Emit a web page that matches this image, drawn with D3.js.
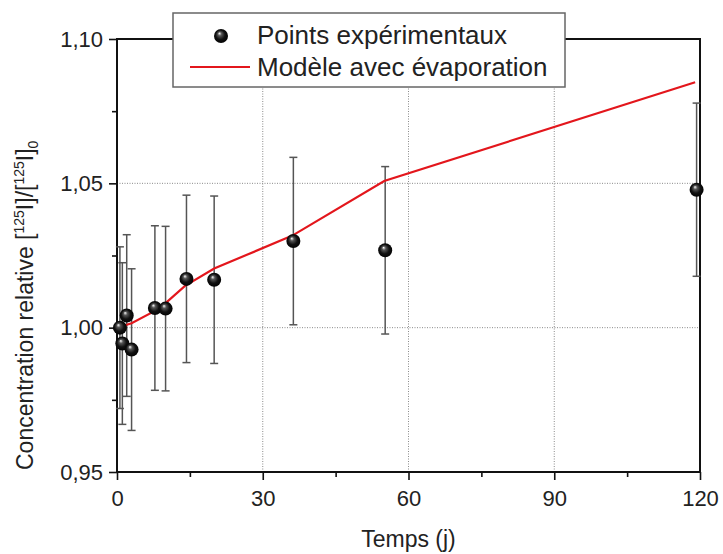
<!DOCTYPE html>
<html>
<head>
<meta charset="utf-8">
<script src="https://cdn.jsdelivr.net/npm/d3@7"></script>
<style>
  body { margin: 0; background: #fff; }
  svg { display: block; font-family: "Liberation Sans", Arial, sans-serif; }
</style>
</head>
<body>
<div id="chart"></div>
<script>
// experimental points
let days = [0.6, 1.1, 2, 3, 7.8, 10, 14.3, 20, 36.3, 55.2, 119.3];
let conc = [1.000, 0.9945, 1.0042, 0.9924, 1.0068, 1.0066, 1.0169, 1.0166, 1.0300, 1.0268, 1.0478];
let errs = [0.028, 0.028, 0.028, 0.028, 0.0285, 0.0285, 0.029, 0.029, 0.029, 0.029, 0.030];

// model with evaporation
let modelDays = [0, 1, 2, 3, 8, 10, 14, 20, 36, 55, 119];
let modelConc = [1.000, 1.0005, 1.001, 1.0015, 1.006, 1.0085, 1.0145, 1.0205, 1.0318, 1.0508, 1.0850];

// ticks
let xTicks = [0, 30, 60, 90, 120];
let xMinor = [15, 45, 75, 105];
let yTicks = [0.95, 1.00, 1.05, 1.10];
let yMinor = [0.975, 1.025, 1.075];
let yLabels = ["0,95", "1,00", "1,05", "1,10"];

let svgWidth = 723;
let svgHeight = 554;

let svg = d3.select("#chart")
  .append("svg")
  .attr("width", svgWidth)
  .attr("height", svgHeight);

let x = d3.scaleLinear().domain([0, 120]).range([117, 700]);
let y = d3.scaleLinear().domain([0.95, 1.10]).range([472, 39]);

// sphere look for markers
let grad = svg.append("defs").append("radialGradient")
  .attr("id", "ball")
  .attr("cx", "0.5").attr("cy", "0.5").attr("r", "0.55")
  .attr("fx", "0.38").attr("fy", "0.3");
grad.append("stop").attr("offset", "0").attr("stop-color", "#ffffff");
grad.append("stop").attr("offset", "0.25").attr("stop-color", "#555");
grad.append("stop").attr("offset", "0.6").attr("stop-color", "#111");
grad.append("stop").attr("offset", "1").attr("stop-color", "#000");

// grid lines
let grid = svg.append("g");
grid.selectAll(".gx")
  .data([30, 60, 90])
  .enter().append("line")
  .attr("x1", d => x(d)).attr("x2", d => x(d))
  .attr("y1", y(0.95)).attr("y2", y(1.10))
  .attr("stroke", "#8a8a8a")
  .attr("stroke-width", 1)
  .attr("stroke-dasharray", "1,1.5");
grid.selectAll(".gy")
  .data([1.00, 1.05])
  .enter().append("line")
  .attr("x1", x(0)).attr("x2", x(120))
  .attr("y1", d => y(d)).attr("y2", d => y(d))
  .attr("stroke", "#8a8a8a")
  .attr("stroke-width", 1)
  .attr("stroke-dasharray", "1,1.5");

// axes
let bottomAxis = d3.axisBottom(x).tickValues(xTicks).tickSize(8).tickPadding(10).tickFormat(d3.format("d"));
let bottomMinor = d3.axisBottom(x).tickValues(xMinor).tickSize(5).tickFormat("");
let leftAxis = d3.axisLeft(y).tickValues(yTicks).tickSize(8).tickPadding(6)
  .tickFormat((d, i) => yLabels[i]);
let leftMinor = d3.axisLeft(y).tickValues(yMinor).tickSize(5).tickFormat("");

function styleAxis(g) {
  g.select(".domain").remove();
  g.selectAll(".tick line").attr("stroke", "#111").attr("stroke-width", 1.6);
  g.selectAll(".tick text").attr("fill", "#222").attr("font-size", 22)
    .attr("font-family", "Liberation Sans, Arial, sans-serif");
}

svg.append("g").attr("transform", `translate(0,${y(0.95)})`).call(bottomAxis).call(styleAxis);
svg.append("g").attr("transform", `translate(0,${y(0.95)})`).call(bottomMinor).call(styleAxis);
svg.append("g").attr("transform", `translate(${x(0)},0)`).call(leftAxis).call(styleAxis);
svg.append("g").attr("transform", `translate(${x(0)},0)`).call(leftMinor).call(styleAxis);

// frame
svg.append("rect")
  .attr("x", x(0)).attr("y", y(1.10))
  .attr("width", x(120) - x(0)).attr("height", y(0.95) - y(1.10))
  .attr("fill", "none")
  .attr("stroke", "#111")
  .attr("stroke-width", 2);

// error bars
let bars = svg.append("g");
days.forEach((d, i) => {
  let lo = y(conc[i] - errs[i]);
  let hi = y(conc[i] + errs[i]);
  bars.append("line")
    .attr("x1", x(d)).attr("x2", x(d)).attr("y1", lo).attr("y2", hi)
    .attr("stroke", "#555").attr("stroke-width", 1.5);
  [lo, hi].forEach(v => {
    bars.append("line")
      .attr("x1", x(d) - 4).attr("x2", x(d) + 4).attr("y1", v).attr("y2", v)
      .attr("stroke", "#555").attr("stroke-width", 1.5);
  });
});

// model line
let line = d3.line()
  .x((d, i) => x(modelDays[i]))
  .y(d => y(d));
svg.append("path")
  .datum(modelConc)
  .attr("d", line)
  .attr("fill", "none")
  .attr("stroke", "#e3161c")
  .attr("stroke-width", 2.2);

// points
svg.append("g")
  .selectAll("circle")
  .data(conc)
  .enter()
  .append("circle")
  .attr("cx", (d, i) => x(days[i]))
  .attr("cy", d => y(d))
  .attr("r", 7)
  .attr("fill", "url(#ball)");

// legend
let legend = svg.append("g");
legend.append("rect")
  .attr("x", 173).attr("y", 13)
  .attr("width", 392).attr("height", 74)
  .attr("fill", "#fff")
  .attr("stroke", "#666")
  .attr("stroke-width", 1.5);
legend.append("circle")
  .attr("cx", 221).attr("cy", 36).attr("r", 7)
  .attr("fill", "url(#ball)");
legend.append("line")
  .attr("x1", 190).attr("x2", 250).attr("y1", 67).attr("y2", 67)
  .attr("stroke", "#e3161c").attr("stroke-width", 2.2);
legend.append("text")
  .attr("x", 257).attr("y", 44)
  .attr("font-size", 26).attr("fill", "#222")
  .text("Points expérimentaux");
legend.append("text")
  .attr("x", 257).attr("y", 76)
  .attr("font-size", 26).attr("fill", "#222")
  .text("Modèle avec évaporation");

// x axis title
svg.append("text")
  .attr("x", (x(0) + x(120)) / 2)
  .attr("y", 547)
  .attr("text-anchor", "middle")
  .attr("font-size", 23)
  .attr("fill", "#222")
  .text("Temps (j)");

// y axis title with super/subscripts
let yTitle = svg.append("text")
  .attr("transform", "rotate(-90)")
  .attr("x", -470)
  .attr("y", 33)
  .attr("font-size", 23)
  .attr("fill", "#222");
yTitle.append("tspan").text("Concentration relative [");
yTitle.append("tspan").attr("font-size", 14).attr("dy", -9).text("125");
yTitle.append("tspan").attr("dy", 9).text("I]/[");
yTitle.append("tspan").attr("font-size", 14).attr("dy", -9).text("125");
yTitle.append("tspan").attr("dy", 9).text("I]");
yTitle.append("tspan").attr("font-size", 14).attr("dy", 5).text("0");
</script>
</body>
</html>
